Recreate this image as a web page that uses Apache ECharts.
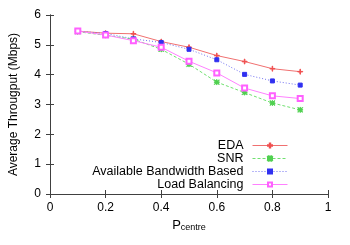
<!DOCTYPE html>
<html><head><meta charset="utf-8">
<script src="https://cdn.jsdelivr.net/npm/echarts@6/dist/echarts.min.js"></script>
<style>html,body{margin:0;padding:0;background:#fff}#c{width:350px;height:245px}</style>
</head><body><div id="c"></div>
<script>
const xValues = [0.1,0.2,0.3,0.4,0.5,0.6,0.7,0.8,0.9];
const eda = [5.46,5.39,5.37,5.11,4.92,4.64,4.44,4.20,4.10];
const snr = [5.44,5.32,5.19,4.85,4.35,3.75,3.40,3.05,2.82];
const abb = [5.46,5.38,5.20,5.08,4.85,4.50,4.01,3.79,3.65];
const lb  = [5.46,5.33,5.14,4.92,4.45,4.06,3.55,3.29,3.20];
const seriesNames = ['EDA','SNR','Available Bandwidth Based','Load Balancing'];
const xTitle = 'P';
const xTitleSub = 'centre';
const yTitle = 'Average Througput (Mbps)';

const plusPath = 'path://M4,0h1v9h-1z M0,4h9v1h-9z';
const crossPath = 'path://M0,0.7L0.7,0L9,8.3L8.3,9z M8.3,0L9,0.7L0.7,9L0,8.3z M4,0h1v9h-1z M0,4h9v1h-9z';
const pair = a => a.map((v,i)=>[xValues[i],v]);
const F = 'Liberation Sans, Arial, sans-serif';
const axisCol = '#404040';

const chart = echarts.init(document.getElementById('c'));
const mk = (name, data, color, type, symbol, size, symColor) => ({
  name, type:'line', data:pair(data), xAxisIndex:0, yAxisIndex:0,
  lineStyle:{color, width:1, type},
  itemStyle:{color: symColor || color, borderColor: symColor || color, borderWidth:1},
  symbol, symbolSize:size, showSymbol:true, animation:false
});
chart.setOption({
  animation:false,
  grid:{left:49, right:22, top:15, bottom:51},
  legend:{
    orient:'vertical', align:'right', right:62, bottom:54, itemGap:0, padding:0,
    itemWidth:35, itemHeight:5,
    lineStyle:{width:1},
    textStyle:{fontFamily:F, fontSize:12.5, lineHeight:12.5, color:'#000', padding:[0,4,0,0]},
    data:seriesNames
  },
  xAxis:[
    {type:'value', min:0, max:1, interval:0.2,
     name:'{a|'+xTitle+'}{b|'+xTitleSub+'}', nameLocation:'middle', nameGap:18,
     nameTextStyle:{rich:{a:{fontFamily:F,fontSize:13,color:'#000',verticalAlign:'bottom'},b:{fontFamily:F,fontSize:9,color:'#000',padding:[8,0,0,0]}}},
     axisLine:{lineStyle:{color:axisCol}}, axisTick:{inside:true,length:4,lineStyle:{color:axisCol}},
     axisLabel:{fontFamily:F,fontSize:12,color:'#000',margin:8,formatter:v=>String(+v.toFixed(1))},
     splitLine:{show:false}},
    {type:'value', position:'top', min:0, max:1, interval:0.2,
     axisLine:{show:true,lineStyle:{color:axisCol}}, axisTick:{inside:true,length:4,lineStyle:{color:axisCol}},
     axisLabel:{show:false}, splitLine:{show:false}}
  ],
  yAxis:[
    {type:'value', min:0, max:6, interval:1,
     name:yTitle, nameLocation:'middle', nameGap:30,
     nameTextStyle:{fontFamily:F,fontSize:12,color:'#000'},
     axisLine:{show:true,lineStyle:{color:axisCol}}, axisTick:{show:true,inside:true,length:4,lineStyle:{color:axisCol}},
     axisLabel:{fontFamily:F,fontSize:12,color:'#000',margin:9},
     splitLine:{show:false}},
    {type:'value', position:'right', min:0, max:6, interval:1,
     axisLine:{show:true,lineStyle:{color:axisCol}}, axisTick:{show:true,inside:true,length:4,lineStyle:{color:axisCol}},
     axisLabel:{show:false}, splitLine:{show:false}}
  ],
  series:[
    mk(seriesNames[0], eda, '#f07070', 'solid', plusPath, 5, '#f05050'),
    mk(seriesNames[1], snr, '#70e070', [3,2], crossPath, 5, '#50d050'),
    mk(seriesNames[2], abb, '#7070f0', [1,2], 'rect', 4, '#3030f0'),
    mk(seriesNames[3], lb, '#ff80ff', 'solid', 'emptyRect', 5, '#ff60ff')
  ]
});
</script></body></html>
